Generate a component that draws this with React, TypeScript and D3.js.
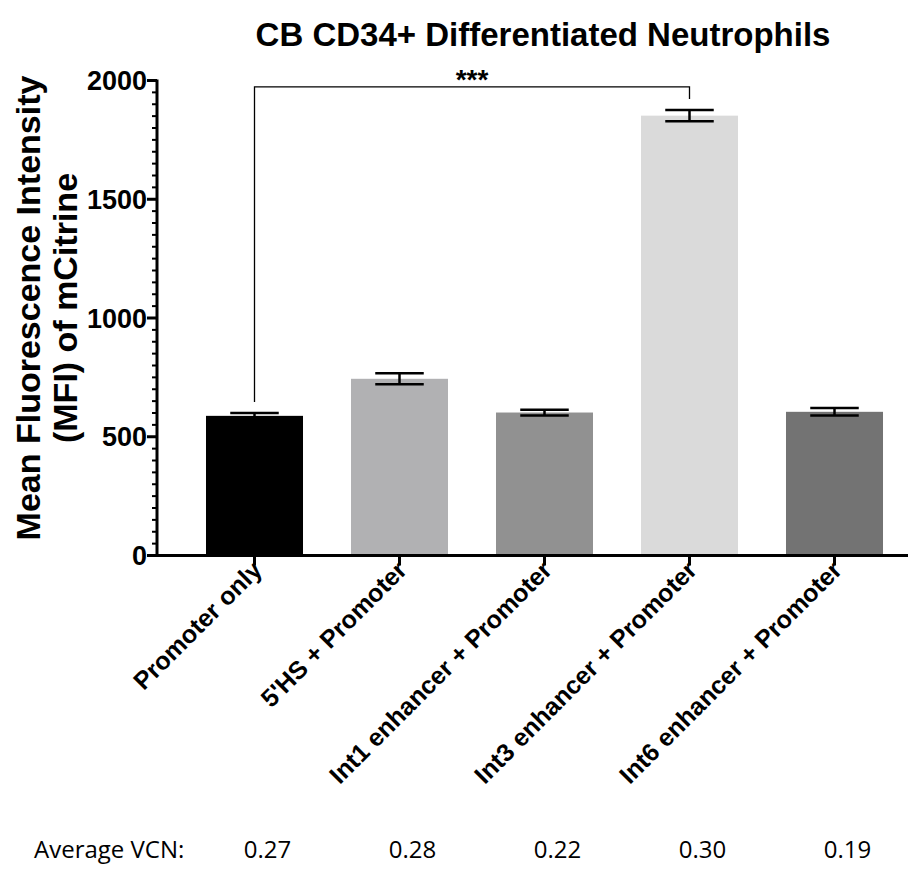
import React from "react";
import * as d3 from "d3";

const categories = [
  "Promoter only",
  "5'HS + Promoter",
  "Int1 enhancer + Promoter",
  "Int3 enhancer + Promoter",
  "Int6 enhancer + Promoter",
];
const meanMFI = [588, 744, 602, 1852, 605];
const semMFI = [12, 23, 12, 24, 16];
const barColors = ["#000000", "#b1b1b3", "#919191", "#dadada", "#737373"];
const averageVCN = ["0.27", "0.28", "0.22", "0.30", "0.19"];
const majorTicks = [0, 500, 1000, 1500, 2000];

// significance bracket between "Promoter only" and "Int3 enhancer + Promoter"
const bracketFrom = 0;
const bracketTo = 3;
const bracketLevel = 1973;
const bracketLegLeft = 646;
const bracketLegRight = 1922;
const bracketLabel = "***";

const W = 919;
const H = 869;
const FONT = "'Liberation Sans', Arial, Helvetica, sans-serif";

export default function App() {
  const axisX = 157;
  const axisRight = 908;
  const y = d3.scaleLinear().domain([0, 2000]).range([555.5, 80.5]);
  const x = d3
    .scaleBand<string>()
    .domain(categories)
    .range([182, 907])
    .paddingInner(0.331)
    .paddingOuter(0.1655);
  const bw = x.bandwidth();
  const cx = (c: string) => (x(c) as number) + bw / 2;
  const minorTicks = d3.range(0, 2001, 50).filter((v) => v % 500 !== 0);
  const y0 = y(0);

  const bx1 = cx(categories[bracketFrom]);
  const bx2 = cx(categories[bracketTo]);

  return (
    <svg
      width={W}
      height={H}
      style={{ position: "absolute", left: 0, top: 0, background: "#fff" }}
      fontFamily={FONT}
    >
      <rect width={W} height={H} fill="#fff" />
      {/* title */}
      <text x={543} y={46} textAnchor="middle" fontSize={33} fontWeight="bold">
        CB CD34+ Differentiated Neutrophils
      </text>

      {/* y axis title */}
      <g transform={`translate(40, ${308}) rotate(-90)`}>
        <text x={0} y={0} textAnchor="middle" fontSize={34} fontWeight="bold">
          Mean Fluorescence Intensity
        </text>
        <text x={0} y={37} textAnchor="middle" fontSize={34} fontWeight="bold">
          (MFI) of mCitrine
        </text>
      </g>

      {/* bars */}
      {categories.map((c, i) => (
        <rect
          key={c}
          x={x(c)}
          y={y(meanMFI[i])}
          width={bw}
          height={y0 - y(meanMFI[i])}
          fill={barColors[i]}
        />
      ))}

      {/* error bars */}
      {categories.map((c, i) => {
        const hi = y(meanMFI[i] + semMFI[i]);
        const lo = y(meanMFI[i] - semMFI[i]);
        const half = bw / 4;
        return (
          <g key={c} stroke="#000" strokeWidth={2.5}>
            <line x1={cx(c)} x2={cx(c)} y1={hi} y2={lo} />
            <line x1={cx(c) - half} x2={cx(c) + half} y1={hi} y2={hi} />
            <line x1={cx(c) - half} x2={cx(c) + half} y1={lo} y2={lo} />
          </g>
        );
      })}

      {/* significance bracket */}
      <path
        d={`M${bx1},${y(bracketLegLeft)}V${y(bracketLevel)}H${bx2}V${y(bracketLegRight)}`}
        fill="none"
        stroke="#000"
        strokeWidth={1.3}
      />
      <text
        x={(bx1 + bx2) / 2}
        y={y(bracketLevel) + 2}
        textAnchor="middle"
        fontSize={28}
        fontWeight="bold"
      >
        {bracketLabel}
      </text>

      {/* y axis */}
      <line x1={axisX} x2={axisX} y1={y(2000) - 1} y2={y0 + 1.5} stroke="#000" strokeWidth={3} />
      {majorTicks.map((t) => (
        <g key={t}>
          <line x1={axisX - 10} x2={axisX} y1={y(t)} y2={y(t)} stroke="#000" strokeWidth={3} />
          <text
            x={axisX - 10}
            y={y(t) + 9.5}
            textAnchor="end"
            fontSize={27}
            fontWeight="bold"
          >
            {t}
          </text>
        </g>
      ))}
      {minorTicks.map((t) => (
        <line key={t} x1={axisX - 5} x2={axisX} y1={y(t)} y2={y(t)} stroke="#000" strokeWidth={2} />
      ))}

      {/* x axis */}
      <line x1={axisX - 1.5} x2={axisRight} y1={y0} y2={y0} stroke="#000" strokeWidth={3} />
      {categories.map((c) => (
        <g key={c}>
          <line x1={cx(c)} x2={cx(c)} y1={y0} y2={y0 + 10} stroke="#000" strokeWidth={3} />
          <text
            transform={`translate(${cx(c) + 9}, ${y0 + 16}) rotate(-45)`}
            textAnchor="end"
            fontSize={25}
            fontWeight="bold"
          >
            {c}
          </text>
        </g>
      ))}

      {/* average vector copy number row */}
      <g fontFamily="'Open Sans', 'Noto Sans', sans-serif" fontSize={24}>
        <text x={34} y={858}>
          Average VCN:
        </text>
        {categories.map((c, i) => (
          <text key={c} x={cx(c) + 13} y={858} textAnchor="middle">
            {averageVCN[i]}
          </text>
        ))}
      </g>
    </svg>
  );
}
